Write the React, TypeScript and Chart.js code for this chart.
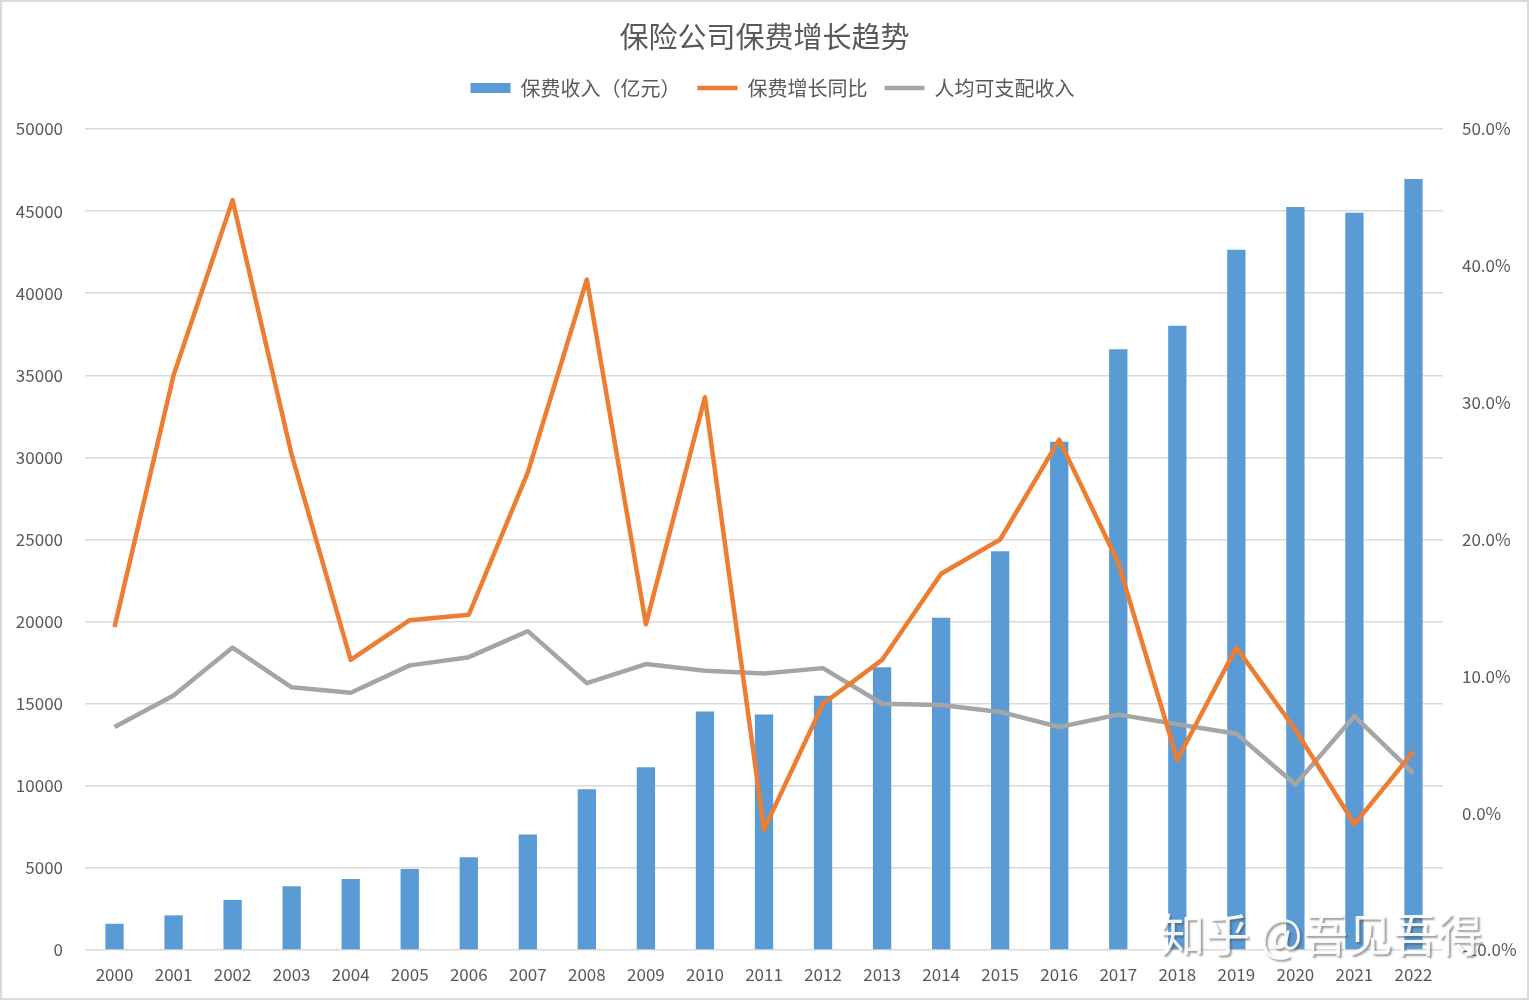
import React, { useEffect, useRef } from 'react';
import { Chart, registerables } from 'chart.js';

Chart.register(...registerables);

const years = ['2000', '2001', '2002', '2003', '2004', '2005', '2006', '2007', '2008', '2009', '2010', '2011', '2012', '2013', '2014', '2015', '2016', '2017', '2018', '2019', '2020', '2021', '2022'];
const premium = [1598, 2109, 3053, 3880, 4318, 4928, 5641, 7036, 9784, 11137, 14528, 14339, 15488, 17222, 20235, 24283, 30959, 36581, 38017, 42645, 45257, 44900, 46957];
const premiumGrowth = [13.6, 32.0, 44.8, 26.2, 11.2, 14.1, 14.5, 24.9, 39.0, 13.8, 30.4, -1.2, 8.0, 11.2, 17.5, 20.0, 27.3, 18.3, 3.9, 12.1, 6.1, -0.8, 4.5];
const incomeGrowth = [6.3, 8.6, 12.1, 9.2, 8.8, 10.8, 11.4, 13.3, 9.5, 10.9, 10.4, 10.2, 10.6, 8.0, 7.9, 7.4, 6.3, 7.2, 6.5, 5.8, 2.1, 7.1, 2.9];

const titleText = '保险公司保费增长趋势';
const seriesNames = ['保费收入（亿元）', '保费增长同比', '人均可支配收入'];
const watermark = '知乎 @吾见吾得';

const FONT = '"Noto Sans CJK SC", "Noto Sans", sans-serif';
const TEXT = '#595959';

const legendShift = {
  id: 'legendShift',
  afterLayout(chart: any) {
    if (chart.legend) {
      chart.legend.left += 8;
      chart.legend.right += 8;
    }
  },
};

export default function App() {
  const ref = useRef<HTMLCanvasElement>(null);

  useEffect(() => {
    if (!ref.current) return;
    const chart = new Chart(ref.current, {
      type: 'bar',
      data: {
        labels: years,
        datasets: [
          {
            type: 'bar',
            label: seriesNames[0],
            data: premium,
            backgroundColor: '#5B9BD5',
            borderWidth: 0,
            yAxisID: 'y',
            order: 3,
            barPercentage: 0.31,
            categoryPercentage: 1,
          } as any,
          {
            type: 'line',
            label: seriesNames[1],
            data: premiumGrowth,
            borderColor: '#ED7D31',
            backgroundColor: '#ED7D31',
            borderWidth: 4.5,
            pointRadius: 0,
            pointHoverRadius: 0,
            tension: 0,
            borderJoinStyle: 'round',
            borderCapStyle: 'butt',
            yAxisID: 'y1',
            order: 1,
          } as any,
          {
            type: 'line',
            label: seriesNames[2],
            data: incomeGrowth,
            borderColor: '#A5A5A5',
            backgroundColor: '#A5A5A5',
            borderWidth: 4.5,
            pointRadius: 0,
            pointHoverRadius: 0,
            tension: 0,
            borderJoinStyle: 'round',
            borderCapStyle: 'butt',
            yAxisID: 'y1',
            order: 2,
          } as any,
        ],
      },
      plugins: [legendShift],
      options: {
        animation: false,
        responsive: false,
        maintainAspectRatio: false,
        layout: { padding: 0 },
        plugins: {
          tooltip: { enabled: false },
          title: {
            display: true,
            text: titleText,
            color: TEXT,
            font: { family: FONT, size: 29, weight: 'normal', lineHeight: 1 },
            padding: { top: 22.5, bottom: 9.5 },
          },
          subtitle: {
            display: true,
            text: '',
            weight: 500,
            font: { family: FONT, size: 10, lineHeight: 1 },
            padding: { top: 11, bottom: 0 },
          } as any,
          legend: {
            display: true,
            position: 'top',
            labels: {
              usePointStyle: true,
              pointStyleWidth: 40,
              boxHeight: 10,
              padding: 17,
              color: TEXT,
              font: { family: FONT, size: 20 },
              generateLabels: (c: any) => {
                const items = (Chart.defaults.plugins.legend.labels as any).generateLabels(c);
                return items
                  .sort((a: any, b: any) => a.datasetIndex - b.datasetIndex)
                  .map((it: any) => ({
                    ...it,
                    pointStyle: it.datasetIndex === 0 ? 'rect' : 'line',
                    lineWidth: it.datasetIndex === 0 ? 0 : 4.5,
                    lineCap: 'butt',
                  }));
              },
            },
          } as any,
        },
        scales: {
          x: {
            grid: { display: false },
            border: { display: false },
            ticks: {
              color: TEXT,
              font: { family: FONT, size: 17 },
              padding: 6,
              autoSkip: false,
              maxRotation: 0,
            },
            afterFit: (s: any) => { s.height = 50; },
          },
          y: {
            position: 'left',
            min: 0,
            max: 50000,
            ticks: {
              stepSize: 5000,
              color: TEXT,
              font: { family: FONT, size: 17 },
              padding: 22,
              callback: (v: any) => String(v),
            },
            grid: { color: '#D9D9D9', lineWidth: 1.5, drawTicks: false },
            border: { display: false },
            afterFit: (s: any) => { s.width = 85; },
          },
          y1: {
            position: 'right',
            min: -10,
            max: 50,
            ticks: {
              stepSize: 10,
              color: TEXT,
              font: { family: FONT, size: 17 },
              padding: 19,
              callback: (v: any) => Number(v).toFixed(1) + '%',
            },
            grid: { display: false, drawTicks: false },
            border: { display: false },
            afterFit: (s: any) => { s.width = 86; },
          },
        },
      } as any,
    });
    return () => chart.destroy();
  }, []);

  return (
    <div style={{ position: 'absolute', left: 0, top: 0, width: 1529, height: 1000, background: '#fff', overflow: 'hidden' }}>
      <canvas ref={ref} width={1529} height={1000} style={{ display: 'block', width: 1529, height: 1000 }} />
      <div
        style={{
          position: 'absolute',
          left: 1160,
          top: 910,
          fontFamily: FONT,
          fontSize: 45,
          lineHeight: 1,
          color: 'rgba(255,255,255,0.92)',
          textShadow: '2px 2px 2px rgba(80,80,80,0.55)',
          whiteSpace: 'pre',
          pointerEvents: 'none',
        }}
      >
        {watermark}
      </div>
      <div
        style={{
          position: 'absolute',
          left: 0,
          top: 0,
          width: 1529,
          height: 1000,
          boxSizing: 'border-box',
          border: '2px solid #D9D9D9',
          pointerEvents: 'none',
        }}
      />
    </div>
  );
}
